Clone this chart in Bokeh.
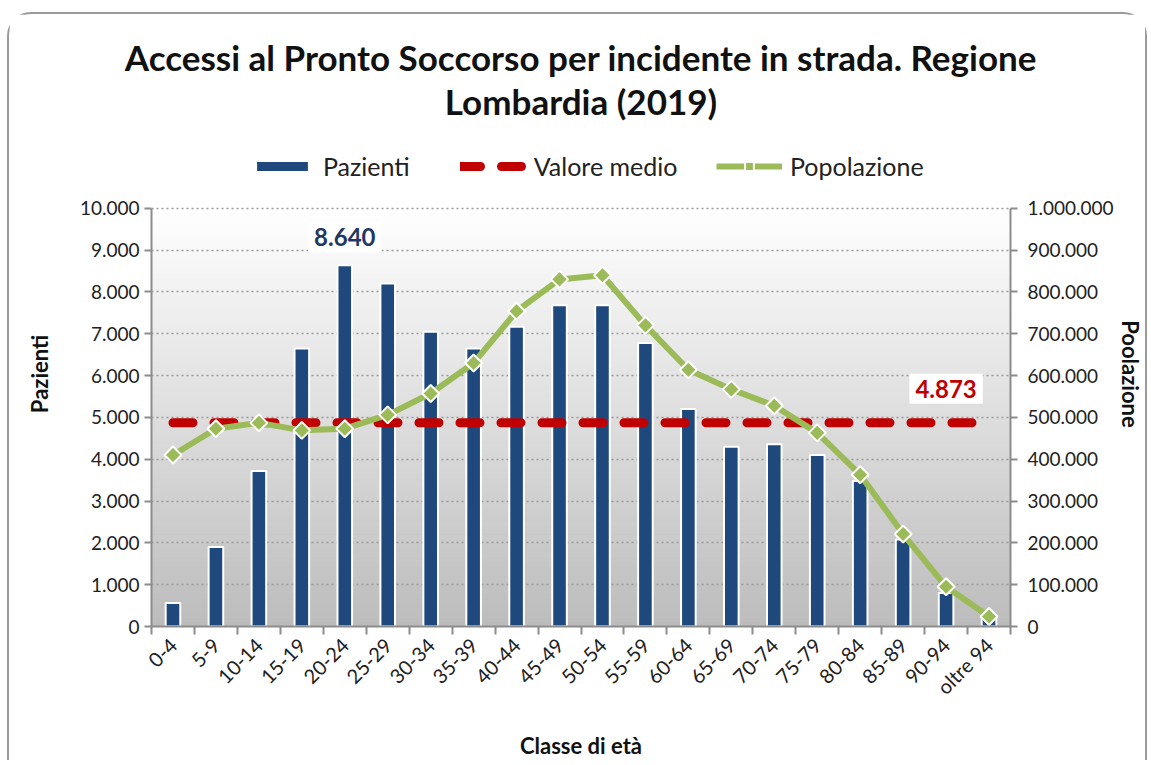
import math
from bokeh.plotting import figure
from bokeh.models import (Range1d, LinearAxis, FixedTicker, CustomJSTickFormatter,
                          Legend, LegendItem, Title, Label)
from bokeh.embed import file_html
from bokeh.resources import INLINE

# ---------------- data ----------------
categorie = ["0-4", "5-9", "10-14", "15-19", "20-24", "25-29", "30-34", "35-39",
             "40-44", "45-49", "50-54", "55-59", "60-64", "65-69", "70-74",
             "75-79", "80-84", "85-89", "90-94", "oltre 94"]
pazienti = [560, 1900, 3720, 6650, 8640, 8200, 7050, 6650, 7170, 7680,
            7680, 6780, 5200, 4300, 4360, 4100, 3480, 2080, 800, 240]
popolazione = [410000, 473000, 487000, 469000, 473000, 506000, 557000, 630000,
               754000, 830000, 840000, 720000, 614000, 567000, 528000, 463000,
               363000, 221000, 95000, 24000]
valore_medio = 4873
y_ticks_pazienti = list(range(0, 10001, 1000))
y_ticks_popolazione = list(range(0, 1000001, 100000))

FONT = "Lato"
BLU = "#1F497D"
ROSSO = "#C00000"
VERDE = "#9BBB59"
GRIGIO = "#8C8C8C"

n = len(categorie)
xs = list(range(n))

def fmt_it(v):
    return f"{v:,}".replace(",", ".")

# ---------------- layout (pixels) ----------------
W, H = 1140, 748
BL, BR, BT, BB = 142, 139, 107, 129
FRAME_H = H - BT - BB          # whole frame (legend lives in its upper part)
AXIS_H = 424                   # pixel height of the 0..10000 axis span
ymax_p = y_ticks_pazienti[-1]
ymax_q = y_ticks_popolazione[-1]
y_end = ymax_p * FRAME_H / AXIS_H
y2_end = ymax_q * FRAME_H / AXIS_H

p = figure(width=W, height=H, output_backend="svg", toolbar_location=None,
           x_range=Range1d(-0.5, n - 0.5), y_range=Range1d(0, y_end),
           min_border_left=BL, min_border_right=BR, min_border_top=BT,
           min_border_bottom=BB)
p.styles = {"border-left": "2px solid #9a9a9a", "border-top": "2px solid #9a9a9a",
            "border-right": "2px solid #9a9a9a", "border-top-left-radius": "24px",
            "border-top-right-radius": "24px", "margin-top": "12px",
            "margin-left": "7px"}
p.outline_line_color = None
p.background_fill_color = "white"
p.border_fill_color = "white"
p.extra_y_ranges = {"pop": Range1d(0, y2_end)}

# gradient background of the plot area (white at top -> grey at bottom)
nstrip = 90
h = ymax_p / nstrip
cent, cols = [], []
for i in range(nstrip):
    yc = (i + 0.5) * h
    t = 1 - yc / ymax_p
    c = int(round(255 - (255 - 188) * t))
    cent.append(yc)
    cols.append(f"#{c:02x}{c:02x}{c:02x}")
p.hbar(y=cent, height=h * 1.02, left=-0.5, right=n - 0.5, color=cols, level="image")

# grid
p.xgrid.visible = False
p.ygrid.ticker = FixedTicker(ticks=y_ticks_pazienti)
p.ygrid.grid_line_color = "#9a9a9a"
p.ygrid.grid_line_dash = "2 3"
p.ygrid.grid_line_width = 1.5

# bars
bars = p.vbar(x=xs, top=pazienti, width=0.34, fill_color=BLU, line_color="white",
              line_width=2)

# mean line
media = p.line(x=xs, y=[valore_medio] * n, line_color=ROSSO, line_width=9,
               line_dash="20 21", line_cap="round")

# population
pop_line = p.line(x=xs, y=popolazione, y_range_name="pop", line_color=VERDE,
                  line_width=6, line_join="round")
pop_pts = p.scatter(x=xs, y=popolazione, y_range_name="pop", marker="square",
                    angle=math.pi / 4, size=12, fill_color=VERDE,
                    line_color="white", line_width=2)

fmt_js = CustomJSTickFormatter(code="""
    return Math.round(tick).toString().replace(/\\B(?=(\\d{3})+(?!\\d))/g, ".");
""")

# axes
xa = p.xaxis[0]
xa.ticker = FixedTicker(ticks=xs, minor_ticks=[i - 0.5 for i in range(n + 1)])
xa.major_label_overrides = {i: c for i, c in enumerate(categorie)}
xa.major_label_orientation = math.pi / 4
xa.major_tick_line_color = None
xa.minor_tick_line_color = GRIGIO
xa.minor_tick_line_width = 2
xa.minor_tick_in = 0
xa.minor_tick_out = 8
xa.axis_line_color = GRIGIO
xa.axis_line_width = 2
xa.major_label_text_font = FONT
xa.major_label_text_font_size = "20px"
xa.major_label_text_color = "#222222"
xa.major_label_standoff = 7
xa.axis_label = "Classe di età"
xa.axis_label_text_font = FONT
xa.axis_label_text_font_style = "bold"
xa.axis_label_text_font_size = "22px"
xa.axis_label_text_color = "#111111"
xa.axis_label_standoff = 22

ya = p.yaxis[0]
ya.ticker = FixedTicker(ticks=y_ticks_pazienti)
ya.formatter = fmt_js
ya.bounds = (0, ymax_p)
ya.axis_label = "Pazienti"

ya2 = LinearAxis(y_range_name="pop", ticker=FixedTicker(ticks=y_ticks_popolazione),
                 formatter=fmt_js, bounds=(0, ymax_q), axis_label="Poolazione")
p.add_layout(ya2, "right")

for ax, std, lstd in ((ya, 5, 24), (ya2, 10, 0)):
    ax.axis_line_color = GRIGIO
    ax.axis_line_width = 2
    ax.major_tick_line_color = GRIGIO
    ax.major_tick_line_width = 2
    ax.major_tick_in = 0
    ax.major_tick_out = 7
    ax.minor_tick_line_color = None
    ax.major_label_text_font = FONT
    ax.major_label_text_font_size = "19px"
    ax.major_label_text_color = "#222222"
    ax.major_label_standoff = std
    ax.axis_label_text_font = FONT
    ax.axis_label_text_font_style = "bold"
    ax.axis_label_text_font_size = "22px"
    ax.axis_label_text_color = "#111111"
    ax.axis_label_standoff = lstd

# data labels
imax = max(range(n), key=lambda i: pazienti[i])
p.add_layout(Label(x=imax, y=pazienti[imax], y_offset=28, text=fmt_it(pazienti[imax]),
                   text_align="center", text_baseline="middle", text_font=FONT,
                   text_font_style="bold", text_font_size="24px", text_color="#1F3864",
                   background_fill_color="white", padding=6))
p.add_layout(Label(x=n - 2, y=valore_medio, y_offset=34, text=fmt_it(valore_medio),
                   text_align="center", text_baseline="middle", text_font=FONT,
                   text_font_style="bold", text_font_size="24px", text_color=ROSSO,
                   background_fill_color="white", padding=6))

# legend (upper, white part of the frame)
leg_style = dict(orientation="horizontal", glyph_width=66, label_standoff=8,
                 label_text_font=FONT, label_text_font_size="25px",
                 label_text_color="#222222", border_line_color=None,
                 background_fill_alpha=0, padding=0, margin=0)
legend1 = Legend(items=[LegendItem(label="Pazienti", renderers=[bars]),
                        LegendItem(label="Valore medio", renderers=[media])],
                 location=(98, 445), glyph_height=14, spacing=50, **leg_style)
legend2 = Legend(items=[LegendItem(label="Popolazione", renderers=[pop_line, pop_pts])],
                 location=(565, 445), glyph_height=22, **leg_style)
p.add_layout(legend1, "center")
p.add_layout(legend2, "center")

# title (two lines)
p.add_layout(Title(text="Lombardia (2019)", align="center", text_font=FONT,
                   text_font_size="35px", text_font_style="bold",
                   text_color="#111111", standoff=0), "above")
p.add_layout(Title(text="Accessi al Pronto Soccorso per incidente in strada. Regione",
                   align="center", text_font=FONT, text_font_size="35px",
                   text_font_style="bold", text_color="#111111", standoff=0), "above")

open("out.html", "w").write(file_html(p, INLINE))
